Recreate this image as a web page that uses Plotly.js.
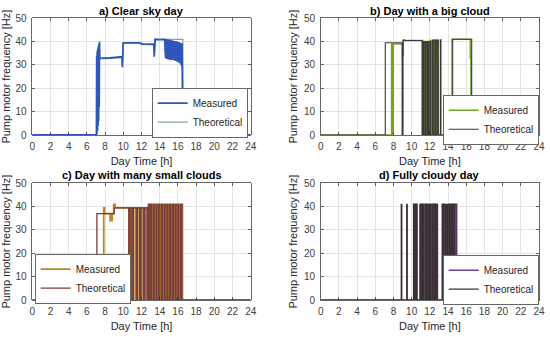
<!DOCTYPE html>
<html><head><meta charset="utf-8">
<script src="https://cdn.plot.ly/plotly-3.0.1.min.js"></script>
<style>html,body{margin:0;padding:0;background:#fff}#chart{width:550px;height:337px}</style>
</head><body><div id="chart"></div>
<script>
// ---------- data (hours, Hz) ----------
const xTicks = [0,2,4,6,8,10,12,14,16,18,20,22,24];
const yTicks = [0,10,20,30,40,50];

// a) Clear sky day
const aTheoT = [0, 7.1, 9.95, 12.0, 13.5, 16.55, 24];
const aTheoV = [0, 33, 39.5, 39, 41, 0, 0];
const aMeasT = [0, 7.05, 7.08, 7.11, 7.14, 7.17, 7.2, 7.23, 7.26, 7.29, 7.32, 7.35, 7.38, 7.42, 7.5, 8.5, 9.5, 9.85, 9.9, 9.92, 9.98, 10.1, 10.5, 11.0, 11.8, 12.0, 12.5, 13.35, 13.4, 13.42, 13.5, 14.0, 14.5, 16.45, 16.5, 16.55, 24];
const aMeasV = [0, 0, 34, 1, 36, 2, 37, 4, 38, 6, 39, 12, 40, 33, 32.8, 33, 33.5, 33.5, 29, 38.5, 39.3, 39.5, 39.5, 39.7, 39.5, 38.9, 38.8, 38.8, 33.5, 40.8, 41, 40.9, 41, 39, 28, 0, 0];
const aBandT  = [14.5, 14.6, 15.0, 15.5, 16.0, 16.3, 16.45];
const aBandHi = [41, 40.8, 40.5, 40.2, 39.8, 39, 38];
const aBandLo = [41, 33, 32.5, 32.3, 31.5, 30.5, 29];

// b) Day with a big cloud
const bTheoT = [0, 7.1, 8.95, 9.05, 11.15, 11.25, 11.35, 11.5, 11.6, 11.75, 11.85, 12.0, 12.1, 12.3, 12.45, 12.6, 12.7, 12.85, 12.92, 13.15, 13.22, 14.45, 16.6, 24];
const bTheoV = [0, 39.5, 0, 40.5, 0, 40, 0, 40, 0, 40, 0, 40, 0, 40.5, 0, 40.5, 0, 40.5, 0, 40.8, 0, 41, 0, 0];
const bMeasT = [0, 7.8, 7.88, 7.98, 9.0, 9.08, 9.2, 11.2, 11.3, 11.42, 11.55, 11.68, 11.8, 11.92, 12.05, 12.2, 12.35, 12.5, 12.65, 12.72, 12.8, 12.9, 14.5, 16.45, 16.52, 24];
const bMeasV = [0, 39, 0, 39, 34, 40.8, 40.5, 0, 40, 0, 40, 0, 40, 0, 40.5, 0, 40.8, 0, 40.8, 33, 40.8, 0, 41, 33, 0, 0];

// c) Day with many small clouds
const cTheoT = [0, 7.1, 9.0, 10.6, 10.75, 10.95, 11.1, 11.4, 11.55, 11.8, 11.95, 12.2, 12.35, 12.6, 12.75, 12.85, 13.0, 13.1, 13.3, 13.4, 13.6, 13.7, 13.9, 14.0, 14.2, 14.3, 14.5, 14.6, 14.8, 14.9, 15.1, 15.2, 15.4, 15.5, 15.7, 15.8, 16.0, 16.1, 16.3, 16.45, 24];
const cTheoV = [0, 37, 39.5, 0, 39.5, 0, 39.5, 0, 39.5, 0, 39.5, 0, 39.5, 0, 41, 0, 41, 0, 41, 0, 41, 0, 41, 0, 41, 0, 41, 0, 41, 0, 41, 0, 41, 0, 41, 0, 41, 0, 41, 0, 0];
const cMeasT = [0, 7.85, 7.95, 8.55, 8.62, 8.7, 8.78, 8.95, 9.1, 10.65, 10.8, 11.0, 11.15, 11.45, 11.6, 11.85, 12.0, 12.25, 12.4, 12.65, 12.8, 12.9, 13.05, 13.15, 13.35, 13.45, 13.65, 13.75, 13.95, 14.05, 14.25, 14.35, 14.55, 14.65, 14.85, 14.95, 15.15, 15.25, 15.45, 15.55, 15.75, 15.85, 16.05, 16.15, 16.35, 16.5, 24];
const cMeasV = [0, 39.5, 37, 34, 37, 34, 37, 41, 39.5, 0, 39.5, 0, 39.5, 0, 39.5, 0, 39.5, 0, 39.5, 0, 41, 0, 41, 0, 41, 0, 41, 0, 41, 0, 41, 0, 41, 0, 41, 0, 41, 0, 41, 0, 41, 0, 41, 0, 41, 0, 0];

// d) Fully cloudy day (on-intervals at full speed)
const dTheoOn  = [8.85, 9.45, 10.2, 10.35, 10.5, 10.9, 11.1, 11.3, 11.5, 11.7, 11.9, 12.1, 12.3, 12.5, 12.7, 13.35, 13.55, 13.8, 14.0, 14.25, 14.45, 14.7];
const dTheoOff = [8.92, 9.52, 10.3, 10.45, 10.6, 11.0, 11.2, 11.45, 11.6, 11.85, 12.0, 12.25, 12.45, 12.6, 12.85, 13.45, 13.7, 13.9, 14.15, 14.35, 14.55, 14.85];
const dMeasOn  = [10.25, 10.45, 11.0, 11.2, 11.55, 12.0, 12.35, 12.6, 13.45, 14.1, 14.4, 14.6];
const dMeasOff = [10.35, 10.55, 11.1, 11.3, 11.7, 12.1, 12.5, 12.7, 13.55, 14.2, 14.5, 14.95];
const dLevel = 41;

function pulses(on, off, lvl){
  const t=[0], v=[0];
  for(let i=0;i<on.length;i++){ t.push(on[i]); v.push(lvl); t.push(off[i]); v.push(0); }
  t.push(24); v.push(0);
  return {t, v};
}
const dTheo = pulses(dTheoOn, dTheoOff, dLevel);
const dMeas = pulses(dMeasOn, dMeasOff, dLevel);

// ---------- colours ----------
const col = {
  aM:'#2f56b8', aT:'#7fa88a',
  bM:'#77a22a', bT:'#3a3a3a',
  cM:'#b8882a', cT:'#7a3d3d',
  dM:'#6e3f93', dT:'#3a3036'
};

const traces = [
  // a
  {x:aTheoT, y:aTheoV, xaxis:'x', yaxis:'y', mode:'lines', line:{shape:'hv', color:col.aT, width:1.2}, name:'Theoretical', legend:'legend'},
  {x:aBandT, y:aBandLo, xaxis:'x', yaxis:'y', mode:'lines', line:{color:col.aM, width:1}, showlegend:false, hoverinfo:'skip'},
  {x:aBandT, y:aBandHi, xaxis:'x', yaxis:'y', mode:'lines', fill:'tonexty', fillcolor:col.aM, line:{color:col.aM, width:1}, showlegend:false, hoverinfo:'skip'},
  {x:aMeasT, y:aMeasV, xaxis:'x', yaxis:'y', mode:'lines', line:{color:col.aM, width:1.8}, name:'Measured', legend:'legend'},
  // b
  {x:bMeasT, y:bMeasV, xaxis:'x2', yaxis:'y2', mode:'lines', line:{shape:'hv', color:col.bM, width:1.6}, name:'Measured', legend:'legend2'},
  {x:bTheoT, y:bTheoV, xaxis:'x2', yaxis:'y2', mode:'lines', line:{shape:'hv', color:col.bT, width:1.1}, name:'Theoretical', legend:'legend2'},
  // c
  {x:cMeasT, y:cMeasV, xaxis:'x3', yaxis:'y3', mode:'lines', line:{shape:'hv', color:col.cM, width:1.8}, name:'Measured', legend:'legend3'},
  {x:cTheoT, y:cTheoV, xaxis:'x3', yaxis:'y3', mode:'lines', line:{shape:'hv', color:col.cT, width:1.3}, name:'Theoretical', legend:'legend3'},
  // d
  {x:dMeas.t, y:dMeas.v, xaxis:'x4', yaxis:'y4', mode:'lines', line:{shape:'hv', color:col.dM, width:1.6}, name:'Measured', legend:'legend4'},
  {x:dTheo.t, y:dTheo.v, xaxis:'x4', yaxis:'y4', mode:'lines', line:{shape:'hv', color:col.dT, width:1.2}, name:'Theoretical', legend:'legend4'}
];

const W=550, H=337;
const xDomL=[32.3/W, 250.7/W], xDomR=[320.7/W, 539/W];
const yDomT=[1-135/H, 1-18.3/H], yDomB=[1-300/H, 1-183.3/H];

function xa(dom, anchor){
  return {domain:dom, anchor:anchor, range:[0,24], tickvals:xTicks, showgrid:true, gridcolor:'#e4e4e4', gridwidth:1,
    zeroline:false, showline:true, linecolor:'#262626', linewidth:0.7, mirror:'ticks', ticks:'inside', ticklen:3,
    tickcolor:'#262626', tickwidth:0.7, tickfont:{size:10, color:'#404040'}, ticklabelstandoff:2,
    title:{text:'Day Time [h]', font:{size:11, color:'#262626'}, standoff:6}};
}
function ya(dom, anchor){
  return {domain:dom, anchor:anchor, range:[0,50], tickvals:yTicks, showgrid:true, gridcolor:'#e4e4e4', gridwidth:1,
    zeroline:false, showline:true, linecolor:'#262626', linewidth:0.7, mirror:'ticks', ticks:'inside', ticklen:3,
    tickcolor:'#262626', tickwidth:0.7, tickfont:{size:10, color:'#404040'}, ticklabelstandoff:3,
    title:{text:'Pump motor frequency [Hz]', font:{size:11, color:'#262626'}, standoff:3}};
}
function lg(x, y, xanchor, order){
  return {x:x, y:y, xanchor:xanchor, yanchor:'top', bgcolor:'#ffffff', bordercolor:'#262626', borderwidth:0.7,
    font:{size:10, color:'#262626'}, tracegroupgap:0, traceorder:order};
}
function title(txt, x, y){
  return {text:'<b>'+txt+'</b>', xref:'paper', yref:'paper', x:x, y:y, xanchor:'center', yanchor:'middle', showarrow:false,
    font:{size:11, color:'#000000'}};
}

const layout = {
  width:W, height:H, margin:{l:0, r:0, t:0, b:0}, paper_bgcolor:'#ffffff', plot_bgcolor:'#ffffff',
  font:{family:'"Liberation Sans", Arial, sans-serif', size:10, color:'#262626'},
  showlegend:true,
  xaxis:xa(xDomL,'y'), yaxis:ya(yDomT,'x'),
  xaxis2:xa(xDomR,'y2'), yaxis2:ya(yDomT,'x2'),
  xaxis3:xa(xDomL,'y3'), yaxis3:ya(yDomB,'x3'),
  xaxis4:xa(xDomR,'y4'), yaxis4:ya(yDomB,'x4'),
  legend:lg(248/W, 1-88/H, 'right', 'reversed'),
  legend2:lg(539/W, 1-95/H, 'right', 'normal'),
  legend3:lg(35/W, 1-254/H, 'left', 'normal'),
  legend4:lg(539/W, 1-255/H, 'right', 'normal'),
  annotations:[
    title('a) Clear sky day', (xDomL[0]+xDomL[1])/2, 1-11/H),
    title('b) Day with a big cloud', (xDomR[0]+xDomR[1])/2, 1-11/H),
    title('c) Day with many small clouds', (xDomL[0]+xDomL[1])/2, 1-175/H),
    title('d) Fully cloudy day', (xDomR[0]+xDomR[1])/2, 1-175/H)
  ]
};
Plotly.newPlot('chart', traces, layout, {displayModeBar:false, staticPlot:true});
</script></body></html>
